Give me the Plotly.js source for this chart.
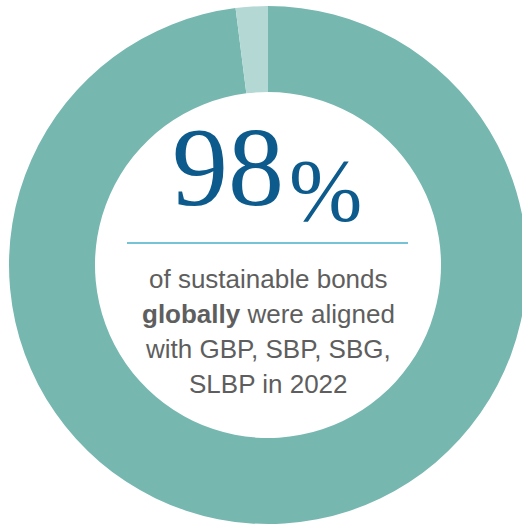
<!DOCTYPE html>
<html>
<head>
<meta charset="utf-8">
<script src="https://cdn.plot.ly/plotly-3.0.1.min.js"></script>
<style>
html,body{margin:0;padding:0;overflow:hidden;background:#fff;}
#chart{width:540px;height:526px;}
</style>
</head>
<body>
<div id="chart"></div>
<script>
// Data
const categories = ["Aligned with GBP, SBP, SBG, SLBP", "Not aligned"];
const values = [98, 2];
const sliceColors = ["#76b7b0", "#b4d8d4"];
const bigNumber = "98";
const bigUnit = "%";
const captionLines = ["of sustainable bonds", "<b>globally</b> were aligned", "with GBP, SBP, SBG,", "SLBP in 2022"];

const W = 540, H = 526;
const px = x => x / W;
const py = y => (H - y) / H;

const trace = {
  type: "pie",
  labels: categories,
  values: values,
  marker: {colors: sliceColors, line: {width: 0}},
  hole: 0.668,
  sort: false,
  direction: "clockwise",
  rotation: 0,
  textinfo: "none",
  hoverinfo: "none",
  showlegend: false,
  domain: {x: [px(9), px(527)], y: [py(524), py(6)]}
};

const capY = [279, 314, 349, 384];
const annotations = [
  {text: bigNumber, x: px(228), y: py(167), xref: "paper", yref: "paper", showarrow: false,
   xanchor: "center", yanchor: "middle",
   font: {family: "Liberation Serif, DejaVu Serif, serif", size: 112, color: "#0d5b8c"}},
  {text: bigUnit, x: px(325), y: py(190), xref: "paper", yref: "paper", showarrow: false,
   xanchor: "center", yanchor: "middle",
   font: {family: "Liberation Serif, DejaVu Serif, serif", size: 88, color: "#0d5b8c"}}
];
captionLines.forEach((t, i) => {
  annotations.push({text: t, x: px(268), y: py(capY[i]), xref: "paper", yref: "paper", showarrow: false,
    xanchor: "center", yanchor: "middle",
    font: {family: "Liberation Sans, Arial, sans-serif", size: 26, color: "#5e5e5e"}});
});

const layout = {
  width: W, height: H,
  margin: {l: 0, r: 0, t: 0, b: 0},
  paper_bgcolor: "#ffffff",
  plot_bgcolor: "#ffffff",
  showlegend: false,
  annotations: annotations,
  shapes: [{type: "line", xref: "paper", yref: "paper",
    x0: px(127), x1: px(408), y0: py(243), y1: py(243),
    line: {color: "#4aaec6", width: 1.5}}]
};

Plotly.newPlot("chart", [trace], layout, {displayModeBar: false, staticPlot: true});
</script>
</body>
</html>
